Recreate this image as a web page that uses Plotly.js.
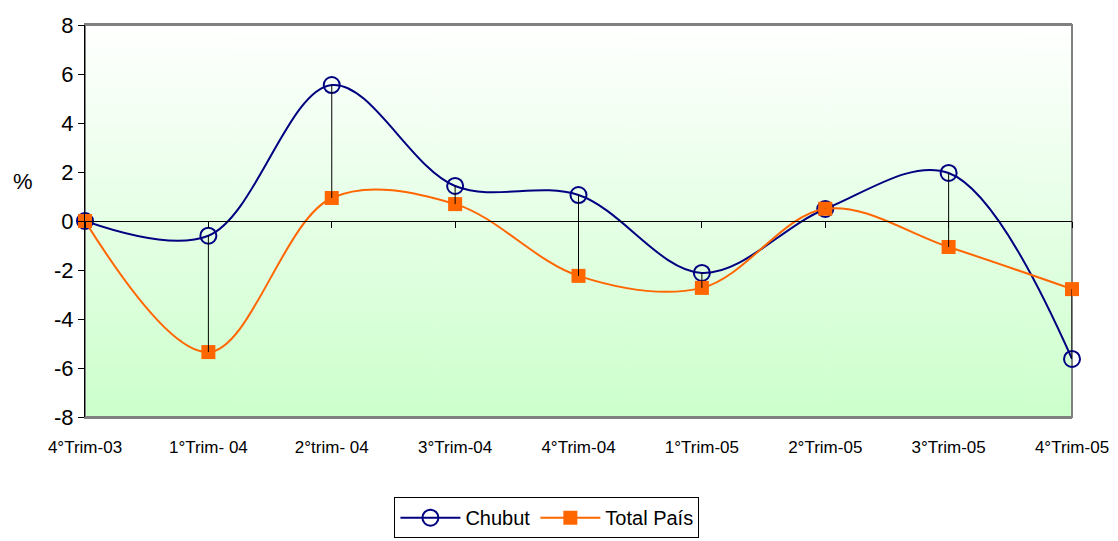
<!DOCTYPE html>
<html>
<head>
<meta charset="utf-8">
<script src="https://cdn.plot.ly/plotly-3.0.1.min.js"></script>
<style>
  body { margin: 0; background: #fff; }
  #chart { width: 1118px; height: 541px; }
</style>
</head>
<body>
<div id="chart"></div>
<script>
// trimestres y variación %
const trimestres = ['4°Trim-03', '1°Trim- 04', '2°trim- 04', '3°Trim-04', '4°Trim-04',
                    '1°Trim-05', '2°Trim-05', '3°Trim-05', '4°Trim-05'];
const chubut    = [0, -0.6, 5.55, 1.43, 1.06, -2.12, 0.49, 1.96, -5.63];
const totalPais = [0, -5.35, 0.94, 0.69, -2.24, -2.73, 0.5, -1.06, -2.78];
const yTicks = [-8, -6, -4, -2, 0, 2, 4, 6, 8];
const yTickText = ['-8', '-6', '-4', '-2', '0', '2', '4', '6', '8'];

const pos = trimestres.map((t, i) => i);

// fondo degradado blanco -> verde claro
const cv = document.createElement('canvas');
cv.width = 10; cv.height = 400;
const ctx = cv.getContext('2d');
const grad = ctx.createLinearGradient(0, 0, 0, 400);
grad.addColorStop(0, '#ffffff');
grad.addColorStop(1, '#ccffcc');
ctx.fillStyle = grad;
ctx.fillRect(0, 0, 10, 400);
const bgUrl = cv.toDataURL('image/png');

// líneas verticales entre las dos series
let dropX = [], dropY = [];
pos.forEach((p, i) => {
    dropX.push(p, p, null);
    dropY.push(chubut[i], totalPais[i], null);
});

const traces = [
    {
        x: dropX, y: dropY,
        xaxis: 'x2',
        mode: 'lines',
        line: {color: '#000000', width: 1},
        showlegend: false,
        hoverinfo: 'skip',
    },
    {
        x: pos, y: chubut,
        name: 'Chubut',
        mode: 'lines+markers',
        line: {color: '#000080', width: 2, shape: 'spline', smoothing: 1},
        marker: {symbol: 'circle-open', size: 16, color: '#000080', line: {width: 2, color: '#000080'}},
        cliponaxis: false,
    },
    {
        x: pos, y: totalPais,
        name: 'Total País',
        mode: 'lines+markers',
        line: {color: '#ff6600', width: 2, shape: 'spline', smoothing: 1},
        marker: {symbol: 'square', size: 14, color: '#ff6600'},
        cliponaxis: false,
    },
];

const layout = {
    width: 1118,
    height: 541,
    margin: {l: 85, r: 46, t: 25, b: 124},
    paper_bgcolor: '#ffffff',
    plot_bgcolor: 'rgba(0,0,0,0)',
    font: {family: 'Liberation Sans, Arial, sans-serif', color: '#000000'},
    showlegend: true,
    hovermode: false,
    xaxis: {
        range: [0, 8],
        tickvals: pos,
        ticktext: trimestres,
        tickfont: {size: 17},
        ticks: '',
        ticklabelstandoff: 14,
        showgrid: false,
        zeroline: false,
        showline: true,
        linecolor: '#808080',
        linewidth: 2,
        mirror: true,
        fixedrange: true,
    },
    xaxis2: {
        overlaying: 'x',
        anchor: 'free',
        position: 0.5,
        range: [0, 8],
        tickvals: pos,
        showticklabels: false,
        ticks: 'outside',
        ticklen: 6,
        tickcolor: '#000000',
        showgrid: false,
        zeroline: false,
        showline: true,
        linecolor: '#000000',
        linewidth: 1,
        fixedrange: true,
    },
    yaxis: {
        range: [-8, 8],
        tickvals: yTicks,
        ticktext: yTickText,
        tickfont: {size: 22},
        ticks: 'outside',
        ticklen: 6,
        tickcolor: '#000000',
        showgrid: false,
        zeroline: false,
        showline: true,
        linecolor: '#000000',
        linewidth: 1,
        fixedrange: true,
    },
    images: [{
        source: bgUrl,
        xref: 'paper', yref: 'paper',
        x: 0, y: 1, sizex: 1, sizey: 1,
        sizing: 'stretch',
        xanchor: 'left', yanchor: 'top',
        layer: 'below',
    }],
    shapes: [{
        type: 'rect', xref: 'paper', yref: 'paper',
        x0: 0, x1: 1, y0: 0, y1: 1,
        line: {color: '#808080', width: 2},
        layer: 'below',
    }],
    annotations: [{
        text: '%',
        xref: 'paper', yref: 'paper',
        x: -0.063, y: 0.6,
        xanchor: 'center', yanchor: 'middle',
        showarrow: false,
        font: {size: 22},
    }],
    legend: {
        orientation: 'h',
        x: 0.468, xanchor: 'center',
        yref: 'container',
        y: 0.081, yanchor: 'top',
        bordercolor: '#000000',
        borderwidth: 1,
        bgcolor: '#ffffff',
        font: {size: 20},
        itemwidth: 60,
    },
};

Plotly.newPlot('chart', traces, layout, {displayModeBar: false, staticPlot: true});
</script>
</body>
</html>
